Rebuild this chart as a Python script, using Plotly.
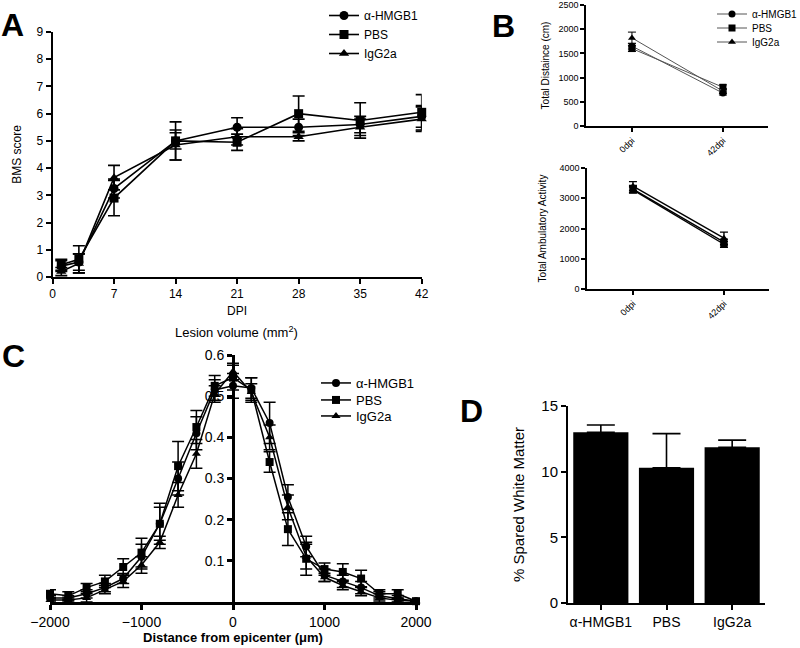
import plotly.graph_objects as go

FONT = "Liberation Sans, Arial, sans-serif"
W, H = 800, 648

# ---------------- data ----------------
groups = ["α-HMGB1", "PBS", "IgG2a"]
symbols = ["circle", "square", "triangle-up"]

# Panel A: BMS score over DPI
dpi = [1, 3, 7, 14, 21, 28, 35, 42]
bms_hmgb1 = [0.40, 0.55, 3.25, 5.00, 5.50, 5.50, 5.60, 5.90]
bms_pbs = [0.45, 0.65, 2.90, 5.00, 4.95, 6.00, 5.75, 6.05]
bms_igg = [0.20, 0.50, 3.65, 4.85, 5.15, 5.15, 5.50, 5.80]
bms_err_hmgb1 = [0.20, 0.30, 0.35, 0.30, 0.35, 0.30, 0.30, 0.40]
bms_err_pbs = [0.20, 0.50, 0.65, 0.70, 0.30, 0.65, 0.65, 0.65]
bms_err_igg = [0.15, 0.35, 0.45, 0.55, 0.30, 0.15, 0.30, 0.45]

# Panel B: open field
timepoints = ["0dpi", "42dpi"]
dist_hmgb1 = [1650, 680]
dist_pbs = [1600, 800]
dist_igg = [1820, 720]
dist_err_hmgb1 = [60, 40]
dist_err_pbs = [60, 50]
dist_err_igg = [120, 50]

amb_hmgb1 = [3300, 1550]
amb_pbs = [3280, 1480]
amb_igg = [3400, 1680]
amb_err_hmgb1 = [120, 100]
amb_err_pbs = [100, 100]
amb_err_igg = [150, 200]

# Panel C: lesion volume vs distance from epicenter
distance = [-2000, -1800, -1600, -1400, -1200, -1000, -800, -600, -400, -200, 0,
            200, 400, 600, 800, 1000, 1200, 1400, 1600, 1800, 2000]
les_hmgb1 = [0.010, 0.010, 0.020, 0.035, 0.057, 0.110, 0.190, 0.300, 0.410, 0.515, 0.525,
             0.520, 0.435, 0.255, 0.135, 0.065, 0.050, 0.035, 0.015, 0.008, 0.002]
les_pbs = [0.020, 0.015, 0.035, 0.050, 0.085, 0.120, 0.190, 0.330, 0.425, 0.525, 0.545,
           0.515, 0.340, 0.177, 0.105, 0.080, 0.073, 0.057, 0.020, 0.020, 0.002]
les_igg = [0.005, 0.005, 0.010, 0.030, 0.050, 0.090, 0.145, 0.260, 0.360, 0.505, 0.560,
           0.510, 0.400, 0.230, 0.110, 0.060, 0.040, 0.025, 0.010, 0.004, 0.002]
les_err_hmgb1 = [0.005, 0.005, 0.010, 0.010, 0.012, 0.030, 0.040, 0.040, 0.040, 0.025, 0.030,
                 0.025, 0.050, 0.030, 0.025, 0.015, 0.015, 0.015, 0.010, 0.008, 0.002]
les_err_pbs = [0.010, 0.010, 0.010, 0.015, 0.020, 0.035, 0.050, 0.060, 0.040, 0.025, 0.030,
               0.030, 0.025, 0.040, 0.040, 0.015, 0.020, 0.020, 0.010, 0.010, 0.002]
les_err_igg = [0.005, 0.005, 0.010, 0.010, 0.015, 0.020, 0.015, 0.030, 0.035, 0.020, 0.020,
               0.020, 0.030, 0.030, 0.030, 0.010, 0.010, 0.010, 0.010, 0.005, 0.002]

# Panel D: spared white matter
swm_values = [13.0, 10.3, 11.85]
swm_err = [0.55, 2.6, 0.55]

# ---------------- helpers ----------------
def px_x(p):
    return p / W

def px_y(p):
    return 1 - p / H

fig = go.Figure()

def add_series(x, y, err, name, sym, xa, ya, legend, show, lw, ms, ew, color="black"):
    fig.add_trace(go.Scatter(
        x=x, y=y, name=name, mode="lines+markers",
        xaxis=xa, yaxis=ya, legend=legend, showlegend=show,
        line=dict(color=color, width=lw),
        marker=dict(symbol=sym, size=ms, color="black"),
        error_y=dict(type="data", array=err, visible=True, color="black",
                     thickness=lw, width=ew),
        cliponaxis=False,
    ))

# Panel A
for y, e, n, s in zip([bms_hmgb1, bms_pbs, bms_igg],
                      [bms_err_hmgb1, bms_err_pbs, bms_err_igg], groups, symbols):
    add_series(dpi, y, e, n, s, "x", "y", "legend", True, 1.6, 9, 6)

# Panel B top (each entry in its own legend box for tight spacing)
for y, e, n, s, lg in zip([dist_hmgb1, dist_pbs, dist_igg],
                          [dist_err_hmgb1, dist_err_pbs, dist_err_igg], groups, symbols,
                          ["legend2", "legend3", "legend4"]):
    add_series(timepoints, y, e, n, s, "x2", "y2", lg, True, 1, 7, 4, color="#555")

# Panel B bottom
for y, e, n, s in zip([amb_hmgb1, amb_pbs, amb_igg],
                      [amb_err_hmgb1, amb_err_pbs, amb_err_igg], groups, symbols):
    add_series(timepoints, y, e, n, s, "x3", "y3", "legend2", False, 1.4, 7, 4)

# Panel C
for y, e, n, s, lg in zip([les_hmgb1, les_pbs, les_igg],
                          [les_err_hmgb1, les_err_pbs, les_err_igg], groups, symbols,
                          ["legend5", "legend6", "legend7"]):
    add_series(distance, y, e, n, s, "x4", "y4", lg, True, 1.5, 8, 6)

# Panel D
fig.add_trace(go.Bar(
    x=groups, y=swm_values, xaxis="x5", yaxis="y5", showlegend=False,
    marker=dict(color="black", line=dict(color="black", width=0)),
    width=0.84,
    error_y=dict(type="data", array=swm_err, arrayminus=[0, 0, 0], symmetric=False,
                 visible=True, color="black", thickness=1.6, width=14),
))

axis_common = dict(showline=True, linecolor="black", ticks="outside", tickcolor="black",
                   showgrid=False, zeroline=False, color="black", automargin=False)

def one_legend(xp, yp, size):
    return dict(x=px_x(xp), y=px_y(yp), xanchor="left", yanchor="middle",
                font=dict(size=size), bgcolor="rgba(0,0,0,0)", itemwidth=30)

fig.update_layout(
    width=W, height=H, margin=dict(l=0, r=0, t=0, b=0, autoexpand=False),
    paper_bgcolor="white", plot_bgcolor="white",
    font=dict(family=FONT, color="black"),
    # Panel A
    xaxis=dict(domain=[px_x(52.5), px_x(421.7)], range=[0, 42], anchor="y",
               tickvals=[0, 7, 14, 21, 28, 35, 42], linewidth=2, tickwidth=2, ticklen=5,
               tickfont=dict(size=12),
               title=dict(text="DPI", font=dict(size=12), standoff=6), **axis_common),
    yaxis=dict(domain=[px_y(277), px_y(32)], range=[0, 9], anchor="x",
               tickvals=list(range(10)), linewidth=2, tickwidth=2, ticklen=5,
               tickfont=dict(size=12),
               title=dict(text="BMS score", font=dict(size=12), standoff=12), **axis_common),
    # Panel B top
    xaxis2=dict(domain=[px_x(586), px_x(768)], range=[-0.505, 1.495], anchor="y2",
                type="category", tickangle=-45, linewidth=1.5, tickwidth=1.5, ticklen=4,
                tickfont=dict(size=9), **axis_common),
    yaxis2=dict(domain=[px_y(126), px_y(5)], range=[0, 2500], anchor="x2",
                tickvals=[0, 500, 1000, 1500, 2000, 2500], linewidth=1.5, tickwidth=1.5,
                ticklen=4, tickfont=dict(size=9),
                title=dict(text="Total Distaince (cm)", font=dict(size=10), standoff=7),
                **axis_common),
    # Panel B bottom
    xaxis3=dict(domain=[px_x(587), px_x(769)], range=[-0.505, 1.495], anchor="y3",
                type="category", tickangle=-45, linewidth=1.5, tickwidth=1.5, ticklen=4,
                tickfont=dict(size=9), **axis_common),
    yaxis3=dict(domain=[px_y(289), px_y(168)], range=[0, 4000], anchor="x3",
                tickvals=[0, 1000, 2000, 3000, 4000], linewidth=1.5, tickwidth=1.5,
                ticklen=4, tickfont=dict(size=9),
                title=dict(text="Total Ambulatory Activity", font=dict(size=10), standoff=11),
                **axis_common),
    # Panel C
    xaxis4=dict(domain=[px_x(50), px_x(416)], range=[-2000, 2000], anchor="y4",
                tickvals=[-2000, -1000, 0, 1000, 2000], linewidth=3, tickwidth=2.5, ticklen=5,
                tickfont=dict(size=14),
                title=dict(text="<b>Distance from epicenter (μm)</b>", font=dict(size=13),
                           standoff=5), **axis_common),
    yaxis4=dict(domain=[px_y(602), px_y(355)], range=[0, 0.6], anchor="free",
                position=px_x(233), tickvals=[0.1, 0.2, 0.3, 0.4, 0.5, 0.6],
                ticktext=["0.1", "0.2", "0.3", "0.4", "0.5", "0.6"],
                linewidth=3, tickwidth=2.5, ticklen=5, tickfont=dict(size=14),
                **axis_common),
    # Panel D
    xaxis5=dict(domain=[px_x(568), px_x(765)], range=[-0.5, 2.5], anchor="y5",
                type="category", linewidth=2, tickwidth=2, ticklen=5,
                tickfont=dict(size=14), **axis_common),
    yaxis5=dict(domain=[px_y(603), px_y(406)], range=[0, 15], anchor="x5",
                tickvals=[0, 5, 10, 15], linewidth=2, tickwidth=2, ticklen=5,
                tickfont=dict(size=15),
                title=dict(text="% Spared White Matter", font=dict(size=15), standoff=13),
                **axis_common),
    legend=dict(x=px_x(324), y=px_y(1), xanchor="left", yanchor="top",
                font=dict(size=12), bgcolor="rgba(0,0,0,0)", itemwidth=30,
                tracegroupgap=0),
    legend2=one_legend(712, 14, 10),
    legend3=one_legend(712, 28, 10),
    legend4=one_legend(712, 42, 10),
    legend5=one_legend(316, 383, 13),
    legend6=one_legend(316, 400, 13),
    legend7=one_legend(316, 416, 13),
    annotations=[
        dict(text="<b>A</b>", x=px_x(-1), y=px_y(5), xref="paper", yref="paper",
             xanchor="left", yanchor="top", showarrow=False, font=dict(size=32)),
        dict(text="<b>B</b>", x=px_x(490), y=px_y(6), xref="paper", yref="paper",
             xanchor="left", yanchor="top", showarrow=False, font=dict(size=32)),
        dict(text="<b>C</b>", x=px_x(0), y=px_y(336), xref="paper", yref="paper",
             xanchor="left", yanchor="top", showarrow=False, font=dict(size=32)),
        dict(text="<b>D</b>", x=px_x(458), y=px_y(391), xref="paper", yref="paper",
             xanchor="left", yanchor="top", showarrow=False, font=dict(size=32)),
        dict(text="Lesion volume (mm<sup>2</sup>)", x=px_x(236), y=px_y(332),
             xref="paper", yref="paper", xanchor="center", yanchor="middle",
             showarrow=False, font=dict(size=13)),
    ],
)

fig.write_html("out.html", config={"displayModeBar": False},
               post_script="document.body.style.margin='0';document.body.style.overflow='hidden';")
